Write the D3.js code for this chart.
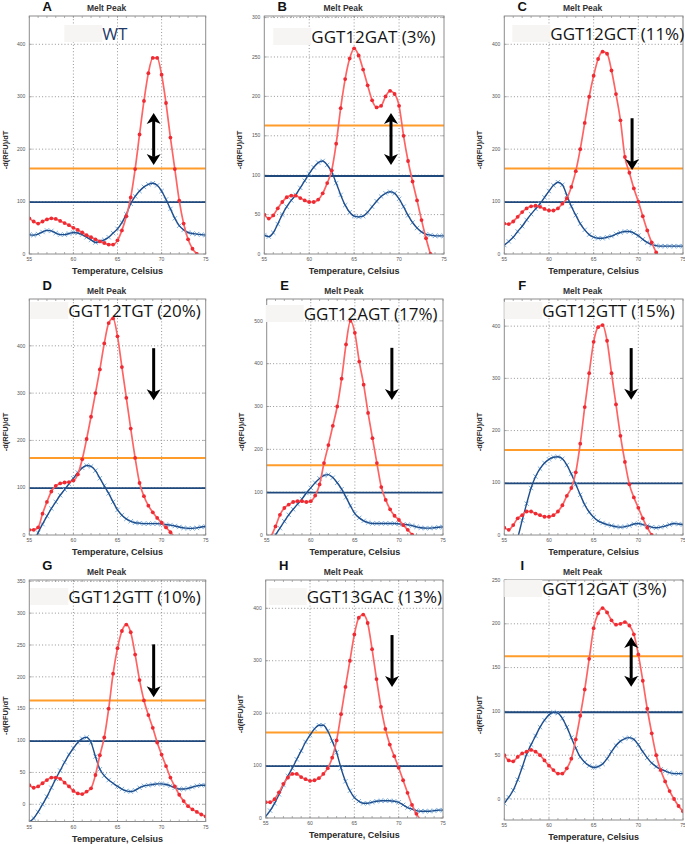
<!DOCTYPE html>
<html><head><meta charset="utf-8">
<script src="https://cdn.jsdelivr.net/npm/d3@7"></script>
<style>body{margin:0;background:#fff}svg{display:block}</style>
</head><body>
<svg id="chart" width="685" height="844"></svg>
<script>
// ---------------- DATA ----------------
const temps = [55,55.5,56,56.5,57,57.5,58,58.5,59,59.5,60,60.5,61,61.5,62,62.5,63,63.5,64,64.5,65,65.5,66,66.5,67,67.5,68,68.5,69,69.5,70,70.5,71,71.5,72,72.5,73,73.5,74,74.5,75];

const redA  = [68,62,58,62,66,68,67,63,59,55,50,46,41,36,32,28,24,21,18,18,26,45,72,108,162,228,292,345,374,374,342,288,222,162,102,58,28,10,0,-10,-18];
const blueA = [37,36,38,42,45,44,40,37,37,39,41,40,37,32,27,22,24,27,32,40,48,60,76,96,110,120,128,133,135,131,120,104,86,68,54,46,41,39,38,37,36];

const redB  = [50,45,49,58,66,72,74,74,71,68,66,66,69,77,90,106,140,185,222,248,261,252,234,214,195,186,188,200,207,203,188,150,118,92,68,43,20,0,-15,-30,-45];
const blueB = [24,22,27,38,50,60,68,75,84,93,102,110,116,118,113,104,90,75,62,53,48,47,48,53,60,67,73,77,79,77,70,60,49,40,33,28,25,24,23,23,23];

const redC  = [58,57,62,71,80,87,91,92,90,86,83,83,87,96,106,128,158,200,250,300,340,372,386,382,350,305,255,185,155,125,100,72,45,22,3,-10,-20,-30,-40,-50,-60];
const blueC = [17,24,32,43,53,65,76,86,96,108,120,131,137,132,112,91,74,58,46,37,32,30,30,32,34,38,41,43,43,40,35,28,22,18,16,15,15,15,15,15,15];

const redD  = [11,11,16,45,70,92,104,109,111,112,115,128,160,203,250,300,350,405,448,458,420,355,290,225,163,110,82,62,48,36,26,16,6,-5,-15,-25,-35,-45,-55,-65,-75];
const blueD = [-40,-18,5,23,40,56,70,84,96,108,120,132,142,147,145,136,120,104,88,70,53,42,34,29,26,25,24,24,24,24,23,22,21,19,17,15,14,14,15,17,18];

const redE  = [-20,-3,20,47,63,71,77,79,79,77,79,92,118,168,210,255,300,365,445,500,472,405,351,285,226,168,112,82,60,45,35,23,12,1,-10,-20,-30,-40,-50,-60,-70];
const blueE = [-40,-20,0,16,32,47,60,72,84,98,110,122,132,139,141,134,122,107,88,68,50,40,33,29,27,27,27,27,27,27,26,25,24,22,19,17,16,16,17,18,19];

const redF  = [14,10,19,32,38,45,45,41,38,35,35,38,45,57,75,90,120,175,245,310,370,398,402,372,310,250,190,140,97,72,52,32,14,0,-12,-25,-35,-45,-55,-65,-75];
const blueF = [-60,-45,-25,-5,28,60,90,112,127,138,145,149,150,146,134,117,97,77,58,44,34,27,23,20,18,16,15,16,18,21,22,20,18,15,14,15,17,20,22,21,20];

const redG  = [30,26,28,33,38,42,42,40,34,28,21,17,16,20,25,46,77,105,150,205,245,272,282,270,235,195,163,140,120,97,78,60,42,28,15,5,-3,-8,-12,-16,-19];
const blueG = [-28,-22,-12,0,12,26,40,53,66,78,88,97,103,105,97,75,55,45,38,33,28,24,21,20,22,26,29,30,31,32,32,31,29,26,24,24,25,27,29,30,30];

const redH  = [30,30,36,49,65,77,84,84,78,74,71,72,76,84,95,115,148,198,250,300,350,382,388,372,322,265,212,170,140,118,96,72,48,25,8,-4,-15,-25,-35,-45,-55];
const blueH = [3,14,28,45,63,80,95,112,128,145,158,170,177,177,166,147,125,95,70,52,39,32,28,28,30,32,33,33,33,32,30,25,20,17,14,13,13,13,14,15,15];

const redI  = [50,44,43,48,52,54,56,54,50,44,38,33,29,29,35,46,68,95,125,160,195,212,218,213,204,199,200,202,198,188,165,135,103,75,50,33,20,9,0,-8,-14];
const blueI = [-5,2,10,22,36,51,62,72,82,90,96,99,98,92,82,70,58,48,42,38,36,37,40,46,54,61,66,69,70,68,62,54,47,41,37,34,32,30,29,29,29];

const panelLetters = ["A","B","C","D","E","F","G","H","I"];
const panelLabels  = ["WT","GGT12GAT (3%)","GGT12GCT (11%)","GGT12TGT (20%)","GGT12AGT (17%)","GGT12GTT (15%)","GGT12GTT (10%)","GGT13GAC (13%)","GGT12GAT (3%)"];
const redSeries  = [redA, redB, redC, redD, redE, redF, redG, redH, redI];
const blueSeries = [blueA, blueB, blueC, blueD, blueE, blueF, blueG, blueH, blueI];
const yDomains = [[0,454],[0,302],[0,454],[0,499],[0,551],[0,452],[-27,352],[0,454],[-24,250]];
const yTickValues = [
  [0,100,200,300,400],
  [0,50,100,150,200,250,300],
  [0,100,200,300,400],
  [0,100,200,300,400],
  [0,100,200,300,400,500],
  [0,100,200,300,400],
  [0,50,100,150,200,250,300,350],
  [0,100,200,300,400],
  [0,50,100,150,200,250]
];
const xTickValues = [55,60,65,70,75];
const xDomain = [55,75];
const orangeThreshold = 163;
const blueThreshold = 99;
// arrows: temperature, start value, end value (head at end), double-headed?
const arrowT   = [69.1, 69.1, 69.3, 69.1, 69.2, 69.2, 69.1, 69.25, 69.2];
const arrowFrom= [269, 179, 259, 395, 437, 358, 251, 349, 185];
const arrowTo  = [170, 113, 160, 285, 315, 259, 168, 250, 128];
const arrowDouble = [true, true, false, false, false, false, false, false, true];

// ---------------- LAYOUT ----------------
const frames = [
  {x0:29.3,  x1:205.7, y0:16,  y1:254},
  {x0:264.3, x1:444,   y0:16,  y1:254},
  {x0:504.3, x1:683,   y0:16,  y1:254},
  {x0:29.3,  x1:205.7, y0:299, y1:535},
  {x0:266.7, x1:443,   y0:299, y1:535},
  {x0:504.3, x1:683,   y0:299, y1:535},
  {x0:29.3,  x1:205.7, y0:580, y1:821.5},
  {x0:265.7, x1:443,   y0:580, y1:818},
  {x0:504.3, x1:683,   y0:580, y1:820}
];
const letterDy = [-5,-5,-5,-9,-9,-9,-10,-10,-10];
const labelOff = [[73,24],[47,27],[46,24],[39,18],[37,21],[38,18],[39,23],[41,23],[38,15]];

const C = {
  red:"#ff6464", redDot:"#ee2a33", blue:"#1f4e8c", blueMark:"#7fb0e0",
  orange:"#ff9c2a", thrBlue:"#1f497d", grid:"#8a8a8a", frame:"#8c8c8c"
};

const svg = d3.select("#chart");
svg.append("rect").attr("width",685).attr("height",844).attr("fill","#fff");

panelLetters.forEach((letter, i) => {
  const f = frames[i];
  const x = d3.scaleLinear().domain(xDomain).range([f.x0, f.x1]);
  const y = d3.scaleLinear().domain(yDomains[i]).range([f.y1, f.y0]);
  const g = svg.append("g");

  const clipId = "clip" + i;
  svg.append("clipPath").attr("id", clipId).append("rect")
    .attr("x", f.x0).attr("y", f.y0).attr("width", f.x1 - f.x0).attr("height", f.y1 - f.y0);

  // dotted gridlines
  g.selectAll(".vg").data(xTickValues.filter(t => t > xDomain[0] && t < xDomain[1])).join("line")
    .attr("x1", d => x(d)).attr("x2", d => x(d)).attr("y1", f.y0).attr("y2", f.y1)
    .attr("stroke", C.grid).attr("stroke-width", 0.9).attr("stroke-dasharray", "1,2.2");
  g.selectAll(".hg").data(yTickValues[i].filter(t => y(t) > f.y0 + 1 && y(t) < f.y1 - 1)).join("line")
    .attr("x1", f.x0).attr("x2", f.x1).attr("y1", d => y(d)).attr("y2", d => y(d))
    .attr("stroke", C.grid).attr("stroke-width", 0.9).attr("stroke-dasharray", "1,2.2");

  // minor ticks on frame
  const xMinor = x.ticks(20);
  g.selectAll(".xmt").data(xMinor).join("line")
    .attr("x1", d => x(d)).attr("x2", d => x(d)).attr("y1", f.y1).attr("y2", f.y1 - 2)
    .attr("stroke", C.frame).attr("stroke-width", 0.7);
  g.selectAll(".xmt2").data(xMinor).join("line")
    .attr("x1", d => x(d)).attr("x2", d => x(d)).attr("y1", f.y0).attr("y2", f.y0 + 2)
    .attr("stroke", C.frame).attr("stroke-width", 0.7);
  g.selectAll(".ymt").data(yTickValues[i]).join("line")
    .attr("x1", f.x0).attr("x2", f.x0 + 2.5).attr("y1", d => y(d)).attr("y2", d => y(d))
    .attr("stroke", C.frame).attr("stroke-width", 0.7);
  g.selectAll(".ymt2").data(yTickValues[i]).join("line")
    .attr("x1", f.x1).attr("x2", f.x1 - 2.5).attr("y1", d => y(d)).attr("y2", d => y(d))
    .attr("stroke", C.frame).attr("stroke-width", 0.7);

  // thresholds
  g.append("line").attr("x1", f.x0).attr("x2", f.x1)
    .attr("y1", y(orangeThreshold)).attr("y2", y(orangeThreshold))
    .attr("stroke", C.orange).attr("stroke-width", 2);
  g.append("line").attr("x1", f.x0).attr("x2", f.x1)
    .attr("y1", y(blueThreshold)).attr("y2", y(blueThreshold))
    .attr("stroke", C.thrBlue).attr("stroke-width", 1.8);

  // series
  const plot = g.append("g").attr("clip-path", `url(#${clipId})`);
  const line = d3.line().x((d, k) => x(temps[k])).y(d => y(d)).curve(d3.curveMonotoneX);

  const blue = blueSeries[i];
  plot.selectAll(".bm").data(blue).join("path")
    .attr("d", (d, k) => {
      const cx = x(temps[k]), cy = y(d), s = 2.2;
      return `M${cx - s},${cy - s}L${cx + s},${cy + s}M${cx - s},${cy + s}L${cx + s},${cy - s}`;
    })
    .attr("stroke", C.blueMark).attr("stroke-width", 1).attr("fill", "none");
  plot.append("path").datum(blue).attr("d", line)
    .attr("fill", "none").attr("stroke", C.blue).attr("stroke-width", 1.4);

  const red = redSeries[i];
  plot.append("path").datum(red).attr("d", line)
    .attr("fill", "none").attr("stroke", C.red).attr("stroke-width", 1.7);
  plot.selectAll(".rm").data(red).join("circle")
    .attr("cx", (d, k) => x(temps[k])).attr("cy", d => y(d)).attr("r", 1.9)
    .attr("fill", C.redDot);

  // frame
  g.append("rect").attr("x", f.x0).attr("y", f.y0)
    .attr("width", f.x1 - f.x0).attr("height", f.y1 - f.y0)
    .attr("fill", "none").attr("stroke", C.frame).attr("stroke-width", 1);

  // tick labels
  g.selectAll(".xl").data(xTickValues).join("text")
    .attr("x", d => x(d)).attr("y", f.y1 + 7).attr("text-anchor", "middle")
    .attr("font-family", "Liberation Sans, Arial, sans-serif").attr("font-size", 5).attr("fill", "#555")
    .text(d => d);
  g.selectAll(".yl").data(yTickValues[i]).join("text")
    .attr("x", f.x0 - 4).attr("y", d => y(d) + 1.7).attr("text-anchor", "end")
    .attr("font-family", "Liberation Sans, Arial, sans-serif").attr("font-size", 5).attr("fill", "#555")
    .text(d => d);

  // axis titles
  g.append("text").attr("x", (f.x0 + f.x1) / 2).attr("y", f.y1 + 20)
    .attr("text-anchor", "middle").attr("font-family", "Liberation Sans, Arial, sans-serif")
    .attr("font-weight", "bold").attr("font-size", 9).attr("fill", "#2a2a2a")
    .text("Temperature, Celsius");
  const ylx = Math.max(5, f.x0 - 25), yly = (f.y0 + f.y1) / 2 + 15;
  g.append("text").attr("transform", `translate(${ylx},${yly}) rotate(-90)`)
    .attr("text-anchor", "middle").attr("dy", "0.35em")
    .attr("font-family", "Liberation Sans, Arial, sans-serif")
    .attr("font-weight", "bold").attr("font-size", 7.5).attr("fill", "#2a2a2a")
    .text("-d(RFU)/dT");

  // title
  g.append("text").attr("x", (f.x0 + f.x1) / 2 - 11).attr("y", f.y0 - 5)
    .attr("text-anchor", "middle").attr("font-family", "Liberation Sans, Arial, sans-serif")
    .attr("font-weight", "bold").attr("font-size", 8.5).attr("fill", "#333")
    .text("Melt Peak");

  // panel letter
  g.append("text").attr("x", f.x0 + 18).attr("y", f.y0 + letterDy[i])
    .attr("text-anchor", "middle").attr("font-family", "Liberation Sans, Arial, sans-serif")
    .attr("font-weight", "bold").attr("font-size", 13).attr("fill", "#111")
    .text(letter);

  // label box + text
  const lx = f.x0 + labelOff[i][0], ly = f.y0 + labelOff[i][1];
  g.append("rect").attr("x", lx - 38).attr("y", ly - 15).attr("width", 38).attr("height", 17)
    .attr("fill", "#f7f5f3");
  g.append("text").attr("x", lx).attr("y", ly)
    .attr("font-family", "Open Sans, Noto Sans, sans-serif").attr("font-size", 17)
    .attr("fill", i === 0 ? "#1f3a68" : "#141414")
    .text(panelLabels[i]);

  // arrow
  const ax = x(arrowT[i]), a1 = y(arrowFrom[i]), a2 = y(arrowTo[i]);
  const hw = 7, hl = 11, notch = 8;
  const ag = g.append("g");
  const s1 = arrowDouble[i] ? a1 + notch : a1;
  ag.append("line").attr("x1", ax).attr("x2", ax).attr("y1", s1).attr("y2", a2 - notch)
    .attr("stroke", "#000").attr("stroke-width", 3);
  ag.append("path")
    .attr("d", `M${ax},${a2}L${ax - hw},${a2 - hl}L${ax},${a2 - notch}L${ax + hw},${a2 - hl}Z`)
    .attr("fill", "#000");
  if (arrowDouble[i]) {
    ag.append("path")
      .attr("d", `M${ax},${a1}L${ax - hw},${a1 + hl}L${ax},${a1 + notch}L${ax + hw},${a1 + hl}Z`)
      .attr("fill", "#000");
  }
});
</script>
</body></html>
